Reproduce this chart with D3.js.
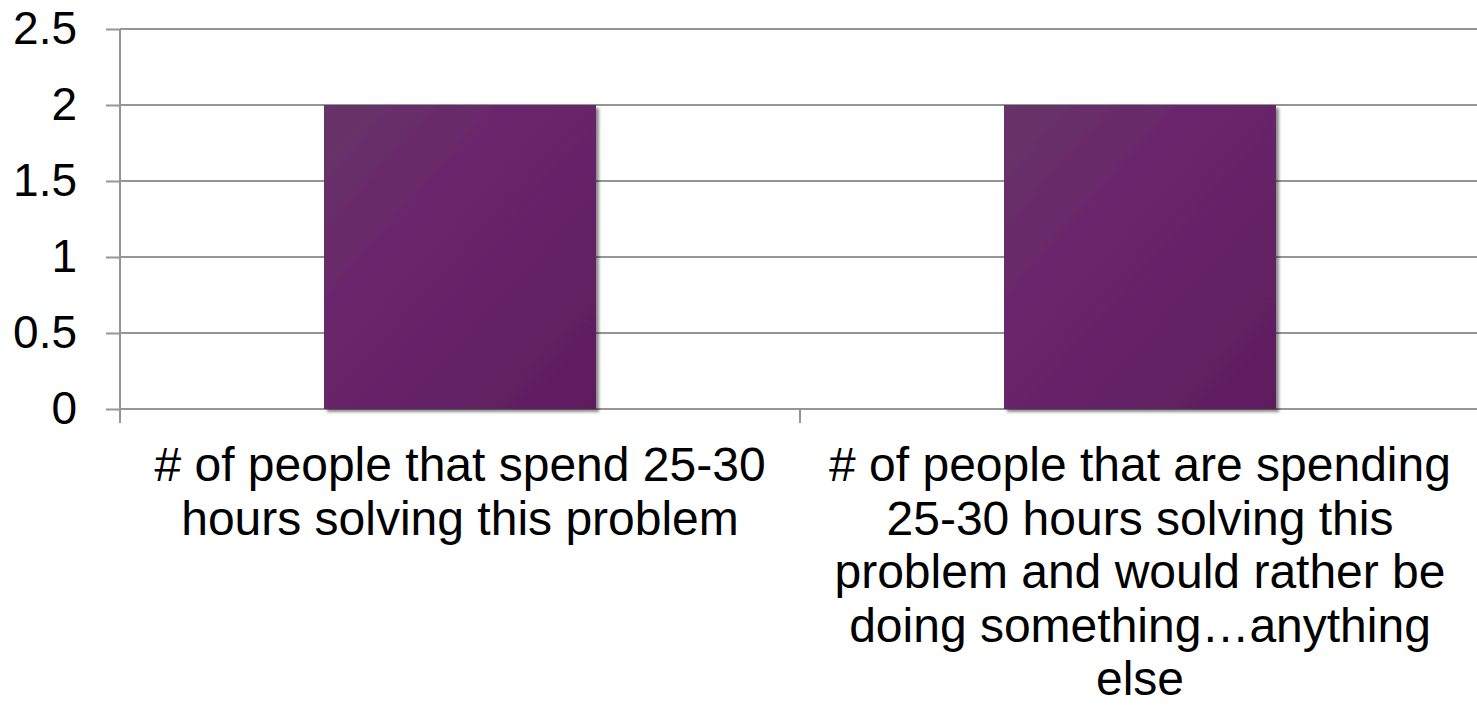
<!DOCTYPE html>
<html>
<head>
<meta charset="utf-8">
<script src="https://cdn.jsdelivr.net/npm/d3@7"></script>
<style>
  html, body { margin: 0; padding: 0; background: #fff; }
  svg { display: block; font-family: "Liberation Sans", Arial, sans-serif; }
</style>
</head>
<body>
<svg id="visualization"></svg>
<script>
// chart data
const categories = [
    "# of people that spend 25-30 hours solving this problem",
    "# of people that are spending 25-30 hours solving this problem and would rather be doing something…anything else"
];
const values = [2, 2];
const yTicks = [0, 0.5, 1, 1.5, 2, 2.5];
// category labels as they wrap in the picture
const labelLines = [
    ["# of people that spend 25-30", "hours solving this problem"],
    ["# of people that are spending", "25-30 hours solving this", "problem and would rather be", "doing something…anything", "else"]
];

const data = categories.map((c, i) => ({ category: c, value: values[i], lines: labelLines[i] }));

// 1. SVG setup
const W = 1477, H = 705;
const margin = { top: 29, right: -3, bottom: 296, left: 120 };
const width = W - margin.left - margin.right;
const height = H - margin.top - margin.bottom;

const svg = d3.select("#visualization")
    .attr("width", W)
    .attr("height", H);

const defs = svg.append("defs");

// bar fill - purple with soft diagonal shading
const grad = defs.append("linearGradient")
    .attr("id", "barFill")
    .attr("x1", "0%").attr("y1", "0%")
    .attr("x2", "100%").attr("y2", "100%");
grad.append("stop").attr("offset", "0%").attr("stop-color", "#663468");
grad.append("stop").attr("offset", "35%").attr("stop-color", "#6a276c");
grad.append("stop").attr("offset", "100%").attr("stop-color", "#5e1d5d");

const shadow = defs.append("filter")
    .attr("id", "barShadow")
    .attr("x", "-5%").attr("y", "-5%")
    .attr("width", "115%").attr("height", "115%");
shadow.append("feDropShadow")
    .attr("dx", 3).attr("dy", 3)
    .attr("stdDeviation", 1.8)
    .attr("flood-color", "#000")
    .attr("flood-opacity", 0.45);

const g = svg.append("g")
    .attr("transform", `translate(${margin.left},${margin.top})`);

// 2. Scales
const x = d3.scaleBand()
    .domain(categories)
    .range([0, width])
    .paddingInner(0.6)
    .paddingOuter(0.3);

const y = d3.scaleLinear()
    .domain([0, 2.5])
    .range([height, 0]);

const gridColor = "#959595";

// 3. Gridlines
g.append("g")
    .selectAll("line")
    .data(yTicks)
    .join("line")
    .attr("x1", 0)
    .attr("x2", width)
    .attr("y1", d => y(d))
    .attr("y2", d => y(d))
    .attr("stroke", gridColor)
    .attr("stroke-width", 2);

// 4. Axes
g.append("g")
    .call(d3.axisLeft(y).tickValues(yTicks).tickSize(14).tickPadding(29).tickFormat(d => String(d)))
    .call(ax => ax.select(".domain").remove())
    .call(ax => ax.selectAll(".tick line").attr("stroke", gridColor).attr("stroke-width", 2))
    .call(ax => ax.selectAll("text")
        .style("font-family", "inherit")
        .style("font-size", "46px")
        .attr("fill", "#000"));

// vertical axis line, running down to the tick length
g.append("line")
    .attr("x1", 0).attr("x2", 0)
    .attr("y1", 0).attr("y2", height + 14)
    .attr("stroke", gridColor)
    .attr("stroke-width", 2);

// category boundary ticks under the axis
const boundaries = categories.map(c => x(c) - x.step() * x.paddingOuter()).concat([width]);
g.append("g")
    .selectAll("line")
    .data(boundaries)
    .join("line")
    .attr("x1", d => d).attr("x2", d => d)
    .attr("y1", height).attr("y2", height + 14)
    .attr("stroke", gridColor)
    .attr("stroke-width", 2);

// 5. Bars
g.selectAll(".bar")
    .data(data)
    .join("rect")
    .attr("class", "bar")
    .attr("x", d => x(d.category))
    .attr("y", d => y(d.value))
    .attr("width", x.bandwidth())
    .attr("height", d => y(0) - y(d.value))
    .attr("fill", "url(#barFill)")
    .attr("filter", "url(#barShadow)");

// 6. Category labels
const labels = g.selectAll(".cat-label")
    .data(data)
    .join("text")
    .attr("class", "cat-label")
    .attr("text-anchor", "middle")
    .attr("y", height + 72)
    .style("font-size", "48px")
    .attr("fill", "#000");

labels.selectAll("tspan")
    .data(d => d.lines.map(line => ({ line, cx: x(d.category) + x.bandwidth() / 2 })))
    .join("tspan")
    .attr("x", d => d.cx)
    .attr("dy", (d, i) => i === 0 ? 0 : 53.5)
    .text(d => d.line);
</script>
</body>
</html>
